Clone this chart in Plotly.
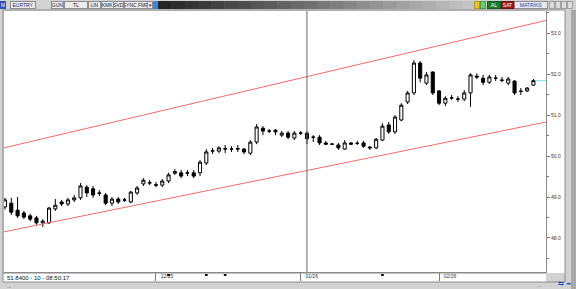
import plotly.graph_objects as go

# ---------------- data ----------------
opens = [48.76,48.85,48.68,48.61,48.54,48.49,48.37,48.37,48.71,48.88,
         48.83,48.93,48.98,49.24,49.20,49.10,49.05,48.85,48.95,48.92,
         48.88,49.10,49.32,49.34,49.30,49.29,49.39,49.58,49.59,49.58,
         49.59,49.59,49.83,50.12,50.12,50.17,50.17,50.17,50.17,50.07,
         50.34,50.68,50.61,50.63,50.51,50.56,50.44,50.56,50.56,50.46,
         50.46,50.32,50.29,50.27,50.17,50.32,50.31,50.32,50.22,50.20,
         50.39,50.76,50.59,50.88,51.32,51.54,52.27,51.78,52.05,51.59,
         51.29,51.42,51.39,51.39,51.54,51.95,51.90,51.80,51.90,51.85,
         51.78,51.83,51.58,51.59,51.73]
closes = [48.93,48.63,48.54,48.51,48.46,48.37,48.41,48.73,48.80,48.83,
          48.93,48.98,49.27,49.10,49.05,49.09,48.85,48.95,48.88,48.93,
          49.12,49.22,49.41,49.35,49.29,49.39,49.54,49.62,49.51,49.59,
          49.51,49.85,50.10,50.13,50.20,50.18,50.17,50.18,50.10,50.34,
          50.71,50.61,50.61,50.59,50.56,50.46,50.56,50.56,50.42,50.46,
          50.32,50.29,50.29,50.20,50.32,50.29,50.31,50.24,50.20,50.41,
          50.73,50.59,50.95,51.24,51.54,52.27,51.90,51.98,51.54,51.29,
          51.41,51.42,51.39,51.54,51.98,51.93,51.80,51.93,51.90,51.85,
          51.88,51.54,51.58,51.66,51.84]
highs = [48.98,48.98,49.00,48.66,48.59,48.54,48.46,48.76,48.95,48.93,
         48.98,49.05,49.34,49.29,49.27,49.17,49.10,49.00,49.00,48.98,
         49.15,49.27,49.46,49.42,49.37,49.44,49.59,49.68,49.66,49.66,
         49.66,49.90,50.17,50.20,50.24,50.27,50.24,50.27,50.20,50.39,
         50.78,50.73,50.66,50.66,50.61,50.61,50.61,50.61,50.61,50.51,
         50.51,50.37,50.32,50.32,50.39,50.34,50.37,50.37,50.24,50.44,
         50.80,50.83,51.00,51.29,51.59,52.34,52.32,52.05,52.07,51.61,
         51.46,51.49,51.46,51.61,52.02,52.02,51.98,51.98,51.98,51.93,
         51.93,51.85,51.66,51.68,51.88]
lows = [48.70,48.56,48.49,48.46,48.41,48.32,48.27,48.34,48.66,48.78,
        48.78,48.88,48.93,49.00,48.98,49.02,48.80,48.78,48.83,48.88,
        48.85,49.05,49.27,49.29,49.24,49.24,49.34,49.54,49.46,49.51,
        49.46,49.51,49.78,50.05,50.07,50.07,50.10,50.10,50.05,50.02,
        50.29,50.51,50.56,50.51,50.46,50.41,50.39,50.51,50.29,50.34,
        50.27,50.27,50.27,50.15,50.15,50.27,50.27,50.20,50.15,50.17,
        50.37,50.54,50.54,50.85,51.27,51.49,51.80,51.73,51.49,51.24,
        51.22,51.37,51.32,51.34,51.20,51.88,51.73,51.76,51.83,51.80,
        51.73,51.49,51.49,51.56,51.71]
bar_index = list(range(len(opens)))

channel_x = [-0.16, 86.0]
channel_upper = [50.20, 53.31]
channel_lower = [48.15, 50.83]

y_tick_vals = [48, 49, 50, 51, 52, 53]
y_tick_text = ["48.0", "49.0", "50.0", "51.0", "52.0", "53.0"]
x_tick_vals = [24, 47, 69]
x_tick_text = ["12/25", "01/26", "02/26"]
event_index = [26, 32, 35, 60]
crosshair_index = 48
last_price = 51.84
status_text = "51.8400 - 10 - 08:50:17"

# ---------------- layout geometry ----------------
W, H = 576, 289
PL, PR, PT, PB = 4, 546, 11, 272   # plot area pixel box


def px(X):
    return (X - PL) / (PR - PL)


def py(Y):
    return (PB - Y) / (PB - PT)


fig = go.Figure()

fig.add_trace(go.Candlestick(
    x=bar_index, open=opens, high=highs, low=lows, close=closes,
    increasing=dict(line=dict(color="#000000", width=1), fillcolor="#ffffff"),
    decreasing=dict(line=dict(color="#000000", width=1), fillcolor="#000000"),
    whiskerwidth=0, showlegend=False, hoverinfo="skip"))

for ch in (channel_upper, channel_lower):
    fig.add_trace(go.Scatter(x=channel_x, y=ch, mode="lines",
                             line=dict(color="#f26b6b", width=1),
                             showlegend=False, hoverinfo="skip"))

shapes = []
# white areas outside plot
shapes.append(dict(type="rect", xref="paper", yref="paper", layer="below",
                   x0=px(546), x1=px(565), y0=py(273), y1=py(10),
                   fillcolor="#ffffff", line=dict(width=0)))
shapes.append(dict(type="rect", xref="paper", yref="paper", layer="below",
                   x0=px(3), x1=px(546), y0=py(282), y1=py(273),
                   fillcolor="#ffffff", line=dict(width=0)))
# outer frame of chart panel
shapes.append(dict(type="rect", xref="paper", yref="paper",
                   x0=px(3), x1=px(565), y0=py(282), y1=py(10),
                   fillcolor="rgba(0,0,0,0)", line=dict(color="#8a8a8a", width=1)))
shapes.append(dict(type="line", xref="paper", yref="paper",
                   x0=px(3), x1=px(546), y0=py(273), y1=py(273),
                   line=dict(color="#8a8a8a", width=1)))
# right scroll strip
shapes.append(dict(type="rect", xref="paper", yref="paper",
                   x0=px(571), x1=px(576), y0=py(289), y1=py(10),
                   fillcolor="#a8a8a8", line=dict(width=0)))
# toolbar gradient bar
n = 24
x_start, x_end = 158, 476
for k in range(n):
    a = x_start + (x_end - x_start) * k / n
    b = x_start + (x_end - x_start) * (k + 1) / n
    t = (k + 0.5) / n
    c = int(0x22 + (0xc8 - 0x22) * t)
    shapes.append(dict(type="rect", xref="paper", yref="paper",
                       x0=px(a), x1=px(b + 0.5), y0=py(9), y1=py(1),
                       fillcolor=f"rgb({c},{c},{c})", line=dict(width=0)))
# crosshair
shapes.append(dict(type="line", xref="x", yref="paper",
                   x0=crosshair_index, x1=crosshair_index, y0=0, y1=1,
                   line=dict(color="#6a6a6a", width=1)))
# last price marker
shapes.append(dict(type="line", xref="x", yref="y",
                   x0=bar_index[-1] + 0.3, x1=channel_x[1], y0=last_price, y1=last_price,
                   line=dict(color="#7fe3e8", width=1)))
# event markers
for e in event_index:
    shapes.append(dict(type="rect", xref="x", yref="paper",
                       x0=e - 0.22, x1=e + 0.22, y0=py(276), y1=py(274),
                       fillcolor="#111111", line=dict(width=0)))

ann = []
FONT = "Liberation Sans, Arial, sans-serif"


def box(text, x0, x1, bg="#ececec", fg="#222222", border="#8c8c8c", size=5):
    ann.append(dict(xref="paper", yref="paper", x=px((x0 + x1) / 2), y=py(5),
                    text=text, showarrow=False, xanchor="center", yanchor="middle",
                    width=max(x1 - x0 - 2, 3), height=6, bgcolor=bg,
                    bordercolor=border, borderwidth=1, borderpad=0,
                    font=dict(family=FONT, size=size, color=fg)))


box("M", 0, 6, bg="#2a4fb0", fg="#ffffff", border="#2a4fb0")
box("EURTRY", 10, 36, fg="#1a2a70")
box("GUN", 51, 64)
box("TL", 64, 88)
box("LIN", 88, 101)
box("KMK", 101, 114)
box("SVD", 113, 124)
box("SYNC FMP", 124, 148)
box("▾", 147, 153)
box("", 153, 158, bg="#3a86d8", border="#3a86d8")
box("", 474, 480, bg="#e8c040", border="#b89020")
box("", 480, 486, bg="#78c878", border="#489848")
box("AL", 487, 501, bg="#1f7a2a", fg="#ffffff", border="#145a1e")
box("SAT", 501, 514, bg="#a01818", fg="#ffffff", border="#700f0f")
box("MATRIKS", 514, 548, bg="#e6e8f2", fg="#2a3fa0")
for k in range(4):
    box("", 549 + 6 * k, 555 + 6 * k, bg="#dcdcdc", border="#a0a0a0")

ann.append(dict(xref="paper", yref="paper", x=px(5), y=py(277.5), text=status_text,
                showarrow=False, xanchor="left", yanchor="middle",
                font=dict(family=FONT, size=6, color="#111111")))
ann.append(dict(xref="paper", yref="paper", x=px(5), y=py(286), text="...",
                showarrow=False, xanchor="left", yanchor="middle",
                font=dict(family=FONT, size=5, color="#444444")))
ann.append(dict(xref="paper", yref="paper", x=px(535), y=py(285), text="...",
                showarrow=False, xanchor="left", yanchor="middle",
                font=dict(family=FONT, size=5, color="#444444")))
ann.append(dict(xref="paper", yref="paper", x=px(556), y=py(283), text="⇆",
                showarrow=False, xanchor="left", yanchor="middle",
                font=dict(family=FONT, size=7, color="#2050c0")))
ann.append(dict(xref="paper", yref="paper", x=px(564), y=py(283), text="◂▸",
                showarrow=False, xanchor="left", yanchor="middle",
                font=dict(family=FONT, size=5, color="#2050c0")))

fig.update_layout(
    width=W, height=H,
    margin=dict(l=PL, r=W - PR, t=PT, b=H - PB, pad=0),
    paper_bgcolor="#d2d2d2", plot_bgcolor="#ffffff",
    shapes=shapes, annotations=ann, showlegend=False,
    xaxis=dict(range=[channel_x[0], channel_x[1]], rangeslider=dict(visible=False),
               showgrid=False, zeroline=False, showline=True, linecolor="#8a8a8a",
               tickvals=x_tick_vals, ticktext=x_tick_text, ticks="outside",
               ticklen=8, tickcolor="#777777", tickwidth=1,
               ticklabelshift=11, ticklabelstandoff=-9,
               tickfont=dict(family=FONT, size=5, color="#333333")),
    yaxis=dict(range=[47.17, 53.54], side="right", showgrid=False, zeroline=False,
               showline=True, linecolor="#8a8a8a", tickvals=y_tick_vals,
               ticktext=y_tick_text, ticks="outside", ticklen=3,
               tickcolor="#777777", tickfont=dict(family=FONT, size=5, color="#333333"),
               minor=dict(dtick=0.5, tick0=47, ticks="outside", ticklen=2,
                          tickcolor="#777777", showgrid=False)),
)

fig.write_html("out.html")
